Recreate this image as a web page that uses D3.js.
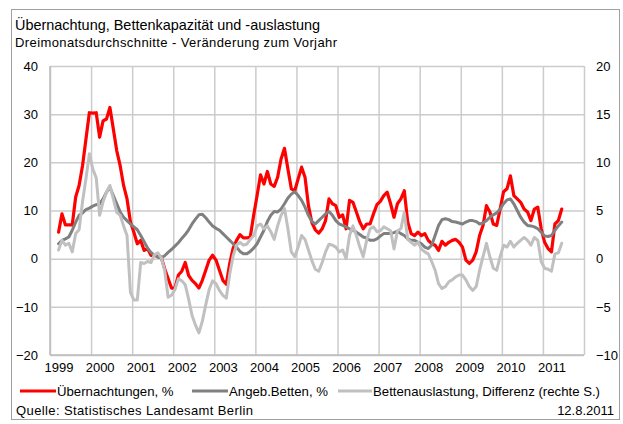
<!DOCTYPE html>
<html>
<head>
<meta charset="utf-8">
<script src="https://cdn.jsdelivr.net/npm/d3@7"></script>
<style>
  html, body { margin: 0; padding: 0; background: #fff; }
  svg { display: block; font-family: "Liberation Sans", Arial, sans-serif; }
</style>
</head>
<body>
<svg id="chart" width="623" height="424"></svg>
<script>
// Monthly three-month averages, change vs. previous year, March 1999 - June 2011
const startMonth = 2; // months after January 1999
const years = ["1999","2000","2001","2002","2003","2004","2005","2006","2007","2008","2009","2010","2011"];
const leftTicks = [-20, -10, 0, 10, 20, 30, 40];
const rightTicks = [-10, -5, 0, 5, 10, 15, 20];

// Übernachtungen, % (left axis)
const uebernachtungen = [
  5.5, 9.3, 7.0, 7.0, 7.0, 12.8, 15.2, 19.3, 24.8, 30.3,
  30.2, 30.3, 25.2, 28.6, 29.0, 31.4, 26.9, 22.4, 19.3, 15.2, 12.4, 7.6,
  5.5, 3.1, 3.8, 1.7, 2.1, 0.7, 0.7, 0.7, 0.3, -2.1, -4.1, -6.1,
  -6.1, -3.4, -2.6, -0.8, -3.5, -4.5, -5.2, -6.1, -4.5, -2.4, -0.3, 0.7,
  -0.3, -2.4, -4.5, -5.3, -1.0, 2.2, 3.8, 5.0, 4.3, 4.3, 4.5, 9.0,
  13.1, 17.4, 15.5, 18.1, 15.5, 15.0, 16.9, 20.7, 22.9, 18.6, 14.5, 14.1,
  16.6, 19.0, 16.9, 11.0, 7.5, 6.0, 5.3, 6.2, 7.9, 12.4, 11.4, 11.0,
  8.6, 9.1, 6.2, 12.1, 11.7, 9.7, 7.6, 6.2, 7.2, 7.2, 9.3, 11.2,
  11.9, 13.1, 13.8, 11.4, 8.6, 11.4, 12.4, 14.1, 7.6, 5.2, 4.8, 5.5,
  4.8, 5.2, 3.8, 3.1, 2.8, 1.7, 3.6, 2.8, 3.4, 3.8, 4.0, 3.4,
  2.4, -0.3, -1.0, -0.3, 1.4, 4.8, 6.9, 11.0, 9.7, 7.2, 6.9, 10.3,
  13.9, 14.5, 17.2, 13.1, 12.4, 11.7, 10.3, 9.7, 7.9, 10.3, 10.7, 6.2,
  3.4, 2.1, 1.4, 7.2, 7.9, 10.3
];

// Angeb. Betten, % (left axis)
const angebBetten = [
  3.1, 3.8, 4.1, 4.5, 5.9, 7.6, 9.0, 9.5, 10.2, 10.5,
  10.9, 11.2, 11.4, 12.4, 13.8, 14.8, 13.1, 11.4, 9.7, 8.6, 7.9, 7.2,
  6.6, 6.0, 4.8, 3.5, 2.2, 1.3, 0.7, 0.3, 0.2, 0.6, 1.3, 1.9,
  2.6, 3.3, 4.2, 5.0, 6.0, 7.2, 8.2, 9.1, 9.2, 8.5, 7.6, 6.8,
  6.3, 5.9, 5.2, 4.5, 3.8, 3.1, 2.4, 1.5, 1.0, 1.0, 1.5, 2.2,
  3.1, 4.5, 5.9, 7.7, 9.0, 9.8, 9.7, 10.3, 11.4, 12.6, 13.4, 13.9,
  13.1, 12.1, 10.7, 9.0, 7.7, 7.2, 7.9, 8.6, 9.3, 9.8, 9.0, 7.9,
  7.2, 6.9, 6.6, 6.2, 5.9, 5.5, 5.0, 4.5, 4.3, 3.8, 3.8, 4.1,
  4.7, 5.2, 5.2, 5.2, 5.4, 5.7, 5.2, 4.8, 4.1, 3.8, 3.8, 3.4,
  3.1, 2.4, 2.1, 2.8, 4.8, 6.9, 8.1, 8.3, 8.1, 7.7, 7.6, 7.4,
  7.2, 7.6, 7.9, 7.9, 7.7, 7.2, 7.4, 7.9, 8.6, 9.1, 9.5, 10.3,
  11.4, 12.2, 12.4, 11.4, 10.0, 8.6, 7.6, 6.9, 6.8, 6.6, 6.2, 5.5,
  4.7, 4.6, 4.8, 5.9, 6.8, 7.6
];

// Bettenauslastung, Differenz in Prozentpunkten (right axis)
const auslastungDiff = [
  0.9, 1.9, 1.4, 1.6, 0.7, 2.6, 3.0, 5.9, 8.3, 10.9,
  9.3, 8.4, 4.5, 5.9, 6.9, 7.6, 6.2, 4.8, 4.5, 3.4, 2.4, -3.5,
  -4.3, -4.3, -0.4, -0.5, -0.3, -0.4, 0.4, 0.6, 0.1, -1.2, -4.0, -3.8,
  -3.2, -2.1, -2.3, -2.7, -4.2, -5.9, -6.9, -7.7, -6.5, -4.8, -3.2, -2.3,
  -2.6, -3.3, -3.8, -4.1, -1.6, 0.3, 1.4, 1.7, 1.4, 1.5, 2.0, 2.4,
  3.4, 3.6, 3.1, 3.4, 2.8, 2.0, 3.4, 4.5, 5.2, 3.1, 0.7, 0.2,
  1.2, 2.4, 2.0, 0.9, -0.2, -1.1, -1.3, -0.4, 0.7, 1.5, 1.4, 1.2,
  0.7, 0.9, 0.0, 2.4, 3.4, 2.4, 1.2, 0.2, 1.9, 3.1, 3.3, 2.8,
  2.9, 3.3, 3.1, 2.9, 1.0, 2.9, 3.1, 4.8, 2.0, 1.7, 1.4, 1.7,
  1.0, 0.7, 0.5, -0.3, -1.2, -2.6, -3.1, -2.9, -2.4, -2.2, -1.9, -1.7,
  -1.7, -2.2, -2.9, -3.3, -2.9, -1.2, 0.2, 1.6, 0.2, -1.0, -1.2, 0.2,
  1.4, 1.2, 1.8, 1.2, 1.6, 1.9, 2.2, 1.9, 1.4, 2.2, 1.9, -0.3,
  -1.0, -1.1, -1.3, 0.5, 0.6, 1.6
];

const seriesInfo = [
  { name: "Übernachtungen, %", values: uebernachtungen, axis: "left", color: "#ff0000", width: 3.2 },
  { name: "Angeb.Betten, %", values: angebBetten, axis: "left", color: "#808080", width: 3 },
  { name: "Bettenauslastung, Differenz (rechte S.)", values: auslastungDiff, axis: "right", color: "#c0c0c0", width: 3 }
];

const svg = d3.select("#chart");
const plot = { left: 50, right: 584, top: 66, bottom: 355 };
const nMonths = years.length * 12;

const x = d3.scaleLinear().domain([0, nMonths]).range([plot.left, plot.right]);
const yL = d3.scaleLinear().domain([-20, 40]).range([plot.bottom, plot.top]);
const yR = d3.scaleLinear().domain([-10, 20]).range([plot.bottom, plot.top]);

// chart frame
svg.append("rect")
  .attr("x", 11.5).attr("y", 9.5).attr("width", 608).attr("height", 410)
  .attr("fill", "none").attr("stroke", "#a0a0a0").attr("stroke-width", 1);

// titles
svg.append("text").attr("x", 15).attr("y", 30)
  .attr("font-size", 15).attr("fill", "#000")
  .attr("textLength", 305).attr("lengthAdjust", "spacingAndGlyphs")
  .text("Übernachtung, Bettenkapazität und -auslastung");
svg.append("text").attr("x", 15).attr("y", 47)
  .attr("font-size", 13).attr("fill", "#000")
  .attr("textLength", 322).attr("lengthAdjust", "spacing")
  .text("Dreimonatsdurchschnitte - Veränderung zum Vorjahr");

// horizontal gridlines
const gridColor = "#cccccc";
svg.append("g")
  .attr("transform", `translate(${plot.left},0)`)
  .call(d3.axisLeft(yL).tickValues(leftTicks).tickSize(-(plot.right - plot.left)).tickFormat(""))
  .call(g => g.select(".domain").remove())
  .call(g => g.selectAll("line").attr("stroke", gridColor).attr("stroke-width", 1.5));

// vertical gridlines at year boundaries
svg.append("g")
  .attr("transform", `translate(0,${plot.bottom})`)
  .call(d3.axisBottom(x).tickValues(d3.range(0, nMonths + 1, 12)).tickSize(-(plot.bottom - plot.top)).tickFormat(""))
  .call(g => g.select(".domain").remove())
  .call(g => g.selectAll("line").attr("stroke", gridColor).attr("stroke-width", 1.5));

// axis lines
svg.append("line").attr("x1", plot.left).attr("x2", plot.left).attr("y1", plot.top).attr("y2", plot.bottom)
  .attr("stroke", "#bdbdbd").attr("stroke-width", 1.5);
svg.append("line").attr("x1", plot.left).attr("x2", plot.right).attr("y1", plot.bottom).attr("y2", plot.bottom)
  .attr("stroke", "#bdbdbd").attr("stroke-width", 1.5);

// left axis labels
svg.append("g")
  .attr("transform", `translate(${plot.left},0)`)
  .call(d3.axisLeft(yL).tickValues(leftTicks).tickSize(0).tickPadding(12).tickFormat(d3.format("d")))
  .call(g => g.select(".domain").remove())
  .call(g => g.selectAll("text").attr("font-size", 13).attr("fill", "#000")
    .attr("font-family", "Liberation Sans, Arial, sans-serif"));

// right axis labels
svg.append("g")
  .attr("transform", `translate(${plot.right},0)`)
  .call(d3.axisRight(yR).tickValues(rightTicks).tickSize(0).tickPadding(12).tickFormat(d3.format("d")))
  .call(g => g.select(".domain").remove())
  .call(g => g.selectAll("text").attr("font-size", 13).attr("fill", "#000")
    .attr("font-family", "Liberation Sans, Arial, sans-serif"));

// year labels, placed near the start of each year
svg.append("g")
  .attr("transform", `translate(0,${plot.bottom})`)
  .call(d3.axisBottom(x).tickValues(years.map((y, i) => i * 12 + 2.5)).tickSize(0).tickPadding(8)
    .tickFormat((d, i) => years[i]))
  .call(g => g.select(".domain").remove())
  .call(g => g.selectAll("text").attr("font-size", 13).attr("fill", "#000")
    .attr("font-family", "Liberation Sans, Arial, sans-serif"));

// series lines
const seriesG = svg.append("g");
seriesInfo.forEach(s => {
  const yS = s.axis === "left" ? yL : yR;
  const line = d3.line()
    .x((d, i) => x(startMonth + i + 0.5))
    .y(d => yS(d))
    .curve(d3.curveLinear);
  seriesG.append("path")
    .datum(s.values)
    .attr("d", line)
    .attr("fill", "none")
    .attr("stroke", s.color)
    .attr("stroke-width", s.width)
    .attr("stroke-linejoin", "round")
    .attr("stroke-linecap", "round");
});

// legend
const legendItems = [
  { x: 20, textX: 57 },
  { x: 192, textX: 229 },
  { x: 338, textX: 373 }
];
const legend = svg.append("g");
seriesInfo.forEach((s, i) => {
  const it = legendItems[i];
  legend.append("line")
    .attr("x1", it.x).attr("x2", it.textX - 1).attr("y1", 391).attr("y2", 391)
    .attr("stroke", s.color).attr("stroke-width", s.width);
  legend.append("text")
    .attr("x", it.textX).attr("y", 395.5)
    .attr("font-size", 13.2).attr("fill", "#000")
    .text(s.name);
});

// footer
svg.append("text").attr("x", 16).attr("y", 415)
  .attr("font-size", 13).attr("fill", "#000")
  .attr("textLength", 237).attr("lengthAdjust", "spacing")
  .text("Quelle: Statistisches Landesamt Berlin");
svg.append("text").attr("x", 614).attr("y", 415)
  .attr("font-size", 13).attr("fill", "#000").attr("text-anchor", "end")
  .text("12.8.2011");
</script>
</body>
</html>
